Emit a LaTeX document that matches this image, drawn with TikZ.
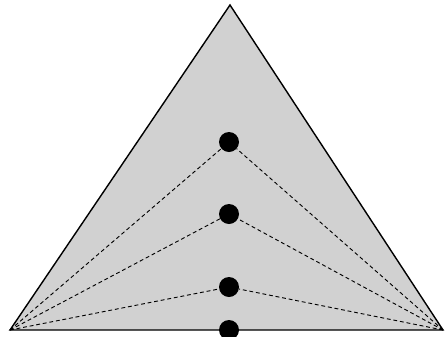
\documentclass[tikz,border=0pt]{standalone}
\begin{document}
\begin{tikzpicture}[x=0.5mm,y=-0.5mm,
  tri/.style={draw=black,line width=2pt,line join=miter,fill=black!18},
  guide/.style={draw=black,line width=1.3pt,dash pattern=on 5.5pt off 4pt},
  ball/.style={circle,fill=black,inner sep=0pt,minimum size=10mm}]
\useasboundingbox (0,0) rectangle (446,336);
\clip (0,0) rectangle (446,336);
\fill[white] (0,0) rectangle (446,336);
\coordinate (L) at (10,330);
\coordinate (R) at (443,330);
\coordinate (T) at (230,5);
\draw[tri] (L) -- (T) -- (R) -- cycle;
\node[ball] (d1) at (229,142) {};
\node[ball] (d2) at (229,214) {};
\node[ball] (d3) at (229,287) {};
\node[ball] (d4) at (229,330) {};
\foreach \d in {d1,d2,d3} {
  \draw[guide] (L) -- (\d);
  \draw[guide] (R) -- (\d);
}
\end{tikzpicture}
\end{document}
